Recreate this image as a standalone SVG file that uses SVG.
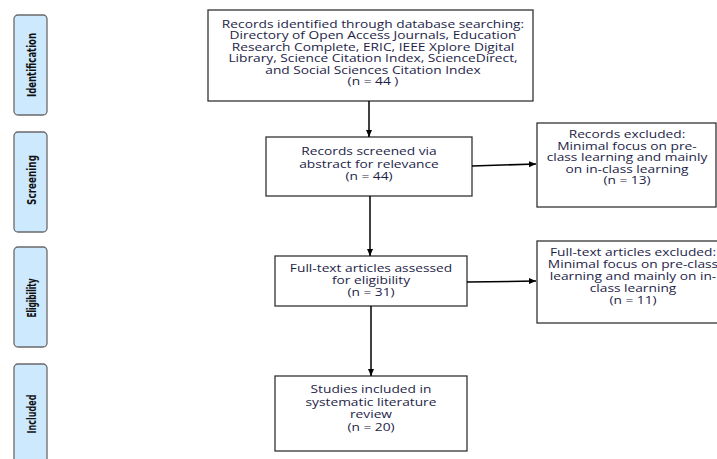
<svg xmlns="http://www.w3.org/2000/svg" width="717" height="459" viewBox="0 0 717 459">
<defs>
<marker id="ah" markerWidth="8" markerHeight="8" refX="7" refY="4" orient="auto" markerUnits="userSpaceOnUse">
<path d="M0,1 L7,4 L0,7 Z" fill="#000"/>
</marker>
<style>
.phase rect{fill:#cde9fd;stroke:#6a6a6a;stroke-width:1.3}
.phase text{font-family:"DejaVu Sans Condensed","DejaVu Sans",sans-serif;font-weight:bold;font-size:12.5px;fill:#111;text-anchor:middle}
.box rect{fill:#fff;stroke:#333;stroke-width:1.3}
.box text{font-family:"Open Sans","Liberation Sans",sans-serif;font-size:11px;fill:#1e1e48;text-anchor:middle}
.conn line{stroke:#000;stroke-width:1.5;marker-end:url(#ah)}
</style>
</defs>
<rect width="717" height="459" fill="#fff"/>
<g id="phase-identification" class="phase">
<rect x="14" y="15" width="33" height="100" rx="4"/>
<text transform="translate(35.5,65) rotate(-90)" textLength="64" lengthAdjust="spacingAndGlyphs">Identification</text>
</g>
<g id="phase-screening" class="phase">
<rect x="14" y="132" width="33" height="100" rx="4"/>
<text transform="translate(35.5,180) rotate(-90)" textLength="50" lengthAdjust="spacingAndGlyphs">Screening</text>
</g>
<g id="phase-eligibility" class="phase">
<rect x="14" y="247" width="33" height="100" rx="4"/>
<text transform="translate(35.5,298) rotate(-90)" textLength="39" lengthAdjust="spacingAndGlyphs">Eligibility</text>
</g>
<g id="phase-included" class="phase">
<rect x="14" y="364" width="33" height="110" rx="4"/>
<text transform="translate(35.5,414) rotate(-90)" textLength="39" lengthAdjust="spacingAndGlyphs">Included</text>
</g>
<g id="identified" class="box">
<rect x="208" y="10" width="325" height="91"/>
<g transform="translate(373,0) scale(1.25,1)">
<text x="0" y="28">Records identified through database searching:</text>
<text x="0" y="39.5">Directory of Open Access Journals, Education</text>
<text x="0" y="51">Research Complete, ERIC, IEEE Xplore Digital</text>
<text x="0" y="62.5">Library, Science Citation Index, ScienceDirect,</text>
<text x="0" y="74">and Social Sciences Citation Index</text>
<text x="0" y="85.5">(n = 44 )</text>
</g>
</g>
<g id="screened" class="box">
<rect x="266" y="137" width="206" height="59"/>
<g transform="translate(369,0) scale(1.25,1)">
<text x="0" y="155.5">Records screened via</text>
<text x="0" y="168">abstract for relevance</text>
<text x="0" y="180.5">(n = 44)</text>
</g>
</g>
<g id="excluded-records" class="box">
<rect x="537" y="123" width="179" height="84"/>
<g transform="translate(627,0) scale(1.25,1)">
<text x="0" y="138.5">Records excluded:</text>
<text x="0" y="150">Minimal focus on pre-</text>
<text x="0" y="161.5">class learning and mainly</text>
<text x="0" y="173">on in-class learning</text>
<text x="0" y="184.5">(n = 13)</text>
</g>
</g>
<g id="fulltext" class="box">
<rect x="275" y="256" width="192" height="50"/>
<g transform="translate(371,0) scale(1.25,1)">
<text x="0" y="272.5">Full-text articles assessed</text>
<text x="0" y="284.5">for eligibility</text>
<text x="0" y="296.5">(n = 31)</text>
</g>
</g>
<g id="excluded-fulltext" class="box">
<rect x="537" y="241" width="195" height="82"/>
<g transform="translate(633,0) scale(1.25,1)">
<text x="0" y="256.5">Full-text articles excluded:</text>
<text x="0" y="268.5">Minimal focus on pre-class</text>
<text x="0" y="280.5">learning and mainly on in-</text>
<text x="0" y="292.5">class learning</text>
<text x="0" y="304">(n = 11)</text>
</g>
</g>
<g id="included" class="box">
<rect x="275" y="376" width="192" height="75"/>
<g transform="translate(371,0) scale(1.25,1)">
<text x="0" y="393.5">Studies included in</text>
<text x="0" y="406">systematic literature</text>
<text x="0" y="418.5">review</text>
<text x="0" y="431">(n = 20)</text>
</g>
</g>
<g id="connectors" class="conn">
<line x1="369" y1="101" x2="369" y2="137"/>
<line x1="370" y1="196" x2="370" y2="256"/>
<line x1="371" y1="306" x2="371" y2="376"/>
<line x1="472" y1="166" x2="536" y2="164"/>
<line x1="467" y1="282" x2="536" y2="281"/>
</g>
</svg>
